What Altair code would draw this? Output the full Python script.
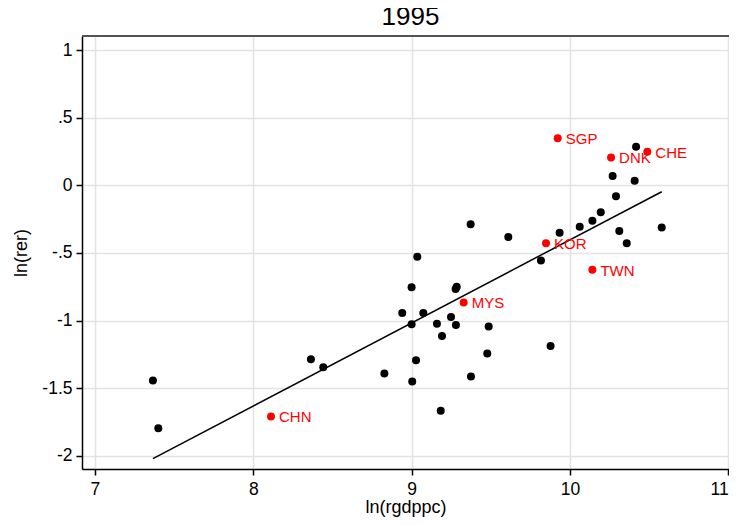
import altair as alt
import pandas as pd

# black points: ln(rgdppc), ln(rer)
x_black = [10.418, 10.270, 10.409, 10.291, 10.195, 10.142, 10.062, 9.935, 10.580, 10.312,
           10.359, 9.373, 9.611, 9.817, 9.036, 9.000, 9.285, 9.278, 8.941, 9.074,
           9.000, 9.160, 9.249, 9.280, 9.487, 9.192, 9.878, 9.478, 8.364, 8.442,
           9.028, 8.828, 9.375, 9.004, 9.184, 7.366, 7.400]
y_black = [0.285, 0.068, 0.034, -0.082, -0.200, -0.262, -0.307, -0.351, -0.312, -0.339,
           -0.428, -0.289, -0.383, -0.556, -0.529, -0.755, -0.750, -0.768, -0.945, -0.945,
           -1.027, -1.024, -0.975, -1.034, -1.044, -1.115, -1.189, -1.244, -1.286, -1.345,
           -1.293, -1.391, -1.414, -1.451, -1.668, -1.443, -1.796]

# highlighted (red) countries
red_labels = ["SGP", "CHE", "DNK", "KOR", "TWN", "MYS", "CHN"]
x_red = [9.923, 10.489, 10.260, 9.849, 10.142, 9.329, 8.112]
y_red = [0.347, 0.248, 0.206, -0.428, -0.625, -0.866, -1.709]

x_ticks = [7, 8, 9, 10, 11]
y_ticks = [-2, -1.5, -1, -0.5, 0, 0.5, 1]

df_black = pd.DataFrame({"x": x_black, "y": y_black})
df_red = pd.DataFrame({"x": x_red, "y": y_red, "label": red_labels})
df_all = pd.concat([df_black, df_red[["x", "y"]]], ignore_index=True)

W, H = 647, 433
FONT = "Liberation Sans"

xs = alt.Scale(domain=[6.918, 11.005], nice=False, zero=False)
ys = alt.Scale(domain=[-2.098, 1.1036], nice=False, zero=False)

x_enc = alt.X("x:Q", scale=xs, title="ln(rgdppc)",
              axis=alt.Axis(values=x_ticks, format="~g", labelPadding=5, titlePadding=1,
                            labelFlush=True))
y_enc = alt.Y("y:Q", scale=ys, title="ln(rer)",
              axis=alt.Axis(values=y_ticks,
                            labelExpr="replace(replace(format(datum.value, '~g'), '\u2212', '-'), '0.', '.')",
                            labelPadding=4, titlePadding=11))

black = alt.Chart(df_black).mark_circle(size=64, opacity=1, color="black").encode(x=x_enc, y=y_enc)

line = alt.Chart(df_all).transform_regression("x", "y").mark_line(
    color="black", strokeWidth=1.5).encode(x="x:Q", y="y:Q")

red = alt.Chart(df_red).mark_circle(size=64, opacity=1, color="#ff0000").encode(x="x:Q", y="y:Q")
red_text = alt.Chart(df_red).mark_text(
    align="left", baseline="middle", dx=8, dy=1, fontSize=15, font=FONT, color="#ff0000"
).encode(x="x:Q", y="y:Q", text="label:N")

top_border = alt.Chart(df_red).mark_rule(color="#555555", strokeWidth=1.5).encode(
    x=alt.value(0), x2=alt.value(W), y=alt.value(0))

chart = alt.layer(line, black, red, red_text, top_border).properties(
    width=W, height=H,
    title=alt.Title("1995", fontSize=26, font=FONT, fontWeight="normal", color="black",
                    anchor="middle", offset=5, dx=5),
    autosize=alt.AutoSizeParams(type="none"),
    padding={"left": 74, "top": 28, "right": 0, "bottom": 48},
).configure_view(stroke=None).configure_axis(
    labelFont=FONT, titleFont=FONT, labelFontSize=17.5, titleFontSize=18,
    titleFontWeight="normal", labelColor="black", titleColor="black",
    domainColor="black", domainWidth=1.5, tickColor="black", tickWidth=1.5, tickSize=6,
    gridColor="#e3e3e3", gridWidth=1.5,
)

chart.save("out.html", embed_options={"renderer": "svg", "actions": False})
